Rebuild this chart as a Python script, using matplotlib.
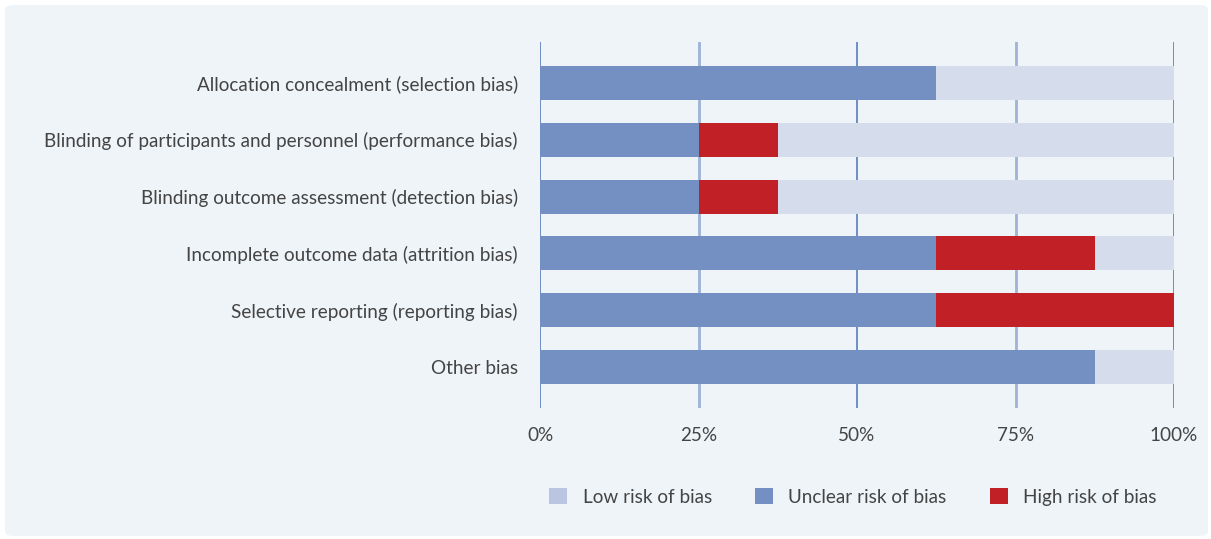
import matplotlib.pyplot as plt
from matplotlib.patches import FancyBboxPatch, Patch
from matplotlib.ticker import PercentFormatter
import numpy as np

plt.rcParams["font.family"] = ["Lato", "DejaVu Sans"]

categories = [
    "Allocation concealment (selection bias)",
    "Blinding of participants and personnel (performance bias)",
    "Blinding outcome assessment (detection bias)",
    "Incomplete outcome data (attrition bias)",
    "Selective reporting (reporting bias)",
    "Other bias",
]
unclear = [62.5, 25, 25, 62.5, 62.5, 87.5]
high = [0, 12.5, 12.5, 25, 37.5, 0]
low = [37.5, 62.5, 62.5, 12.5, 0, 12.5]
ticks = [0, 25, 50, 75, 100]

C_UNCLEAR = "#7490c3"
C_HIGH = "#c02026"
C_LOW = "#d5dcec"
C_LOW_LEG = "#bac5e2"
TXT = "#444444"
BG = "#eff4f8"

fig = plt.figure(figsize=(12.11, 5.39), dpi=100, facecolor="white")
panel = FancyBboxPatch((5 / 1211, 3 / 539), 1203 / 1211, 531 / 539,
                       boxstyle="round,pad=0,rounding_size=0.008",
                       transform=fig.transFigure, facecolor=BG, edgecolor="none", zorder=-10)
fig.patches.append(panel)

ax = fig.add_axes([540 / 1211, 1 - 408 / 539, 634 / 1211, 366 / 539])
ax.set_facecolor("none")

y = np.arange(len(categories))
u = np.array(unclear)
h = np.array(high)
lo = np.array(low)
ax.barh(y, u, height=0.6, color=C_UNCLEAR, zorder=3)
ax.barh(y, h, left=u, height=0.6, color=C_HIGH, zorder=3)
ax.barh(y, lo, left=u + h, height=0.6, color=C_LOW, zorder=3)

# gridlines: 0/50/100 thin and dark, 25/75 thicker and lighter
for t in ticks:
    if t % 50 == 0:
        ax.axvline(t, color="#4a72b8", lw=1.1, zorder=1)
    else:
        ax.axvline(t, color="#9db3d8", lw=2, zorder=1)

ax.set_xlim(0, 100)
ax.set_ylim(len(categories) - 0.28, -0.72)
ax.set_xticks(ticks)
ax.xaxis.set_major_formatter(PercentFormatter(decimals=0))
ax.set_yticks(y)
ax.set_yticklabels(categories)
ax.tick_params(axis="both", length=0, labelsize=13.6, labelcolor=TXT)
ax.tick_params(axis="x", pad=14)
ax.tick_params(axis="y", pad=16)
for s in ax.spines.values():
    s.set_visible(False)

handles = [
    Patch(facecolor=C_LOW_LEG, label="Low risk of bias"),
    Patch(facecolor=C_UNCLEAR, label="Unclear risk of bias"),
    Patch(facecolor=C_HIGH, label="High risk of bias"),
]
leg = fig.legend(handles=handles, loc="center", bbox_to_anchor=(853 / 1211, 1 - 497 / 539),
                 ncol=3, frameon=False, fontsize=13.6, handlelength=0.95, handleheight=0.95,
                 columnspacing=2.3, handletextpad=0.8)
for t in leg.get_texts():
    t.set_color(TXT)

fig.savefig("out.png", dpi=100, facecolor="white")
